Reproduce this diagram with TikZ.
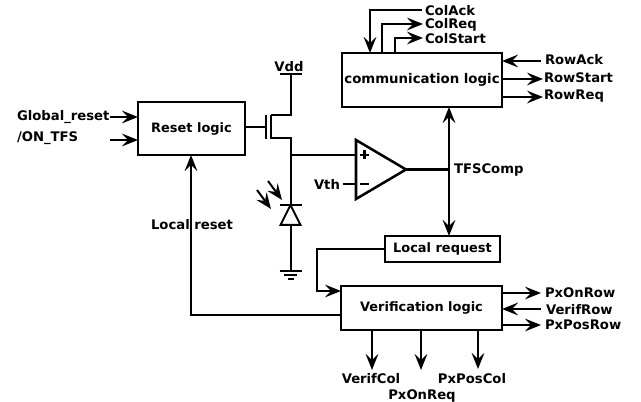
\documentclass[tikz,border=0pt]{standalone}
\usepackage{fontspec}
\setmainfont{DejaVu Sans}
\usetikzlibrary{arrows.meta,calc}
\tikzset{
  x=0.75pt,y=-0.75pt,
  wire/.style={line width=1.5pt,line join=miter,black},
  thick wire/.style={line width=1.9pt,black},
  sig/.style={wire,-{Stealth[length=12pt,width=9.5pt,inset=4.5pt]}},
  both sig/.style={wire,{Stealth[length=12pt,width=9.5pt,inset=4.5pt]}-{Stealth[length=12pt,width=9.5pt,inset=4.5pt]}},
  blockbox/.style={draw,line width=1.5pt,inner sep=0pt,outer sep=0pt,fill=white,font=\bfseries\fontsize{9.7}{11}\selectfont,align=center},
  lab/.style={inner sep=0pt,outer sep=0pt,yshift=-0.75pt,font=\bfseries\fontsize{9.9}{11}\selectfont},
}
\begin{document}
\begin{tikzpicture}
\useasboundingbox (0,0) rectangle (641,402);
% blocks
\node[blockbox,minimum width=80.25pt,minimum height=39.75pt] (reset) at (191.5,128.5) {\raisebox{1pt}{Reset logic}};
\node[blockbox,minimum width=120pt,minimum height=40.5pt,font=\bfseries\fontsize{10}{11}\selectfont] (comm) at (422,80) {\raisebox{-1.2pt}{communication logic}};
\node[blockbox,minimum width=120.75pt,minimum height=33pt] (verif) at (421.5,308) {\raisebox{-0.75pt}{Verification logic}};
\node[blockbox,minimum width=86.25pt,minimum height=19.5pt] (lreq) at (442.5,249) {\raisebox{-0.75pt}{Local request}};
% labels
\node[lab,anchor=west] (greset) at (17,116) {Global\_reset};
\node[lab,anchor=west] (ontfs) at (17,137) {/ON\_TFS};
\node[lab] (lreset) at (192,224) {Local reset};
\node[lab] (vdd) at (289,66) {Vdd};
\node[lab,anchor=west] (vth) at (314,183) {Vth};
\node[lab,anchor=west] (tfs) at (454,169) {TFSComp};
\node[lab,anchor=west] (colack) at (425,10) {ColAck};
\node[lab,anchor=west] (colreq) at (425,24) {ColReq};
\node[lab,anchor=west] (colstart) at (425,38) {ColStart};
\node[lab,anchor=west] (rowack) at (545,59) {RowAck};
\node[lab,anchor=west] (rowstart) at (544,77) {RowStart};
\node[lab,anchor=west] (rowreq) at (544,95) {RowReq};
\node[lab,anchor=west] (pxonrow) at (545,292) {PxOnRow};
\node[lab,anchor=west] (verifrow) at (546,309) {VerifRow};
\node[lab,anchor=west] (pxposrow) at (545,324) {PxPosRow};
\node[lab] (verifcol) at (371,378) {VerifCol};
\node[lab] (pxonreq) at (422,395) {PxOnReq};
\node[lab] (pxposcol) at (472,378) {PxPosCol};
% named points of the circuit
\coordinate (vddtop) at (290.5,74);
\coordinate (drain) at (290.5,115);
\coordinate (source) at (290.5,138);
\coordinate (tap) at (290.5,155);
\coordinate (cathode) at (290.5,205);
\coordinate (anode) at (290.5,225);
\coordinate (gnd) at (290.5,271);
\coordinate (cmpa) at (356,140);
\coordinate (cmpb) at (356,199);
\coordinate (cmpc) at (406,169.5);
\coordinate (busx) at (449,169.5);
% inputs of reset
\draw[sig] (110,117) coordinate (g0) -- (reset.west |- g0);
\draw[sig] (110,140) coordinate (o0) -- (reset.west |- o0);
% transistor
\draw[wire] (reset.east |- 0,127) -- (266,127);
\draw[wire] (266,115) -- (266,139);
\draw[wire,line width=1.7pt] (271,115) -- (271,139);
\draw[wire] (vddtop) -- (drain) -- (271,115);
\draw[wire] (271,138) -- (source) -- (cathode);
\draw[wire] ($(vddtop)+(-11,0)$) -- ($(vddtop)+(11,0)$);
% comparator
\draw[thick wire] (tap) -- (356,155);
\draw[thick wire,line join=miter] (cmpa) -- (cmpb) -- (cmpc) -- cycle;
\draw[thick wire] (343,184) -- (356,184);
\draw[thick wire] (cmpc) -- (busx);
\draw[line width=1.6pt] (360,155) -- (369,155) (364.5,150.5) -- (364.5,159.5);
\draw[line width=1.6pt] (360,184) -- (369,184);
% diode and ground
\draw[wire] ($(cathode)+(-11,0)$) -- ($(cathode)+(11,0)$);
\draw[wire] (cathode) -- ($(anode)+(-10,0)$) -- ($(anode)+(10,0)$) -- cycle;
\draw[wire] (anode) -- (gnd);
\draw[wire] ($(gnd)+(-11,0)$) -- ($(gnd)+(11,0)$);
\draw[wire] ($(gnd)+(-6.5,4)$) -- ($(gnd)+(6.5,4)$);
\draw[wire] ($(gnd)+(-3,8)$) -- ($(gnd)+(3,8)$);
% light
\draw[sig] (268,181) -- (282,200);
\draw[sig] (257,190) -- (271,209);
% bus
\draw[both sig] (comm.south -| busx) -- (lreq.north -| busx);
% local request and reset
\draw[sig] (lreq.west) -- (316.5,249) -- (316.5,291) -- (verif.west |- 0,291);
\draw[sig,line width=1.7pt] (verif.west |- 0,315) -- (191,315) -- (reset.south -| 191,0);
% comm top
\draw[sig] (422,10) coordinate (ca) -- (370,10) -- (comm.north -| 370,0);
\draw[sig] (comm.north -| 382,0) -- (382,24) -- (423,24);
\draw[sig] (comm.north -| 395,0) -- (395,38) -- (423,38);
% comm right
\draw[sig] (541,61) -- (comm.east |- 0,61);
\draw[sig] (comm.east |- 0,79) -- (543,79);
\draw[sig] (comm.east |- 0,97) -- (543,97);
% verif right
\draw[sig] (verif.east |- 0,293) -- (541,293);
\draw[sig] (541,309) -- (verif.east |- 0,309);
\draw[sig] (verif.east |- 0,325) -- (541,325);
% verif bottom
\draw[sig] (verif.south -| 372,0) -- (372,370);
\draw[sig] (verif.south -| 421,0) -- (421,370);
\draw[sig] (verif.south -| 478,0) -- (478,369);
\end{tikzpicture}
\end{document}
